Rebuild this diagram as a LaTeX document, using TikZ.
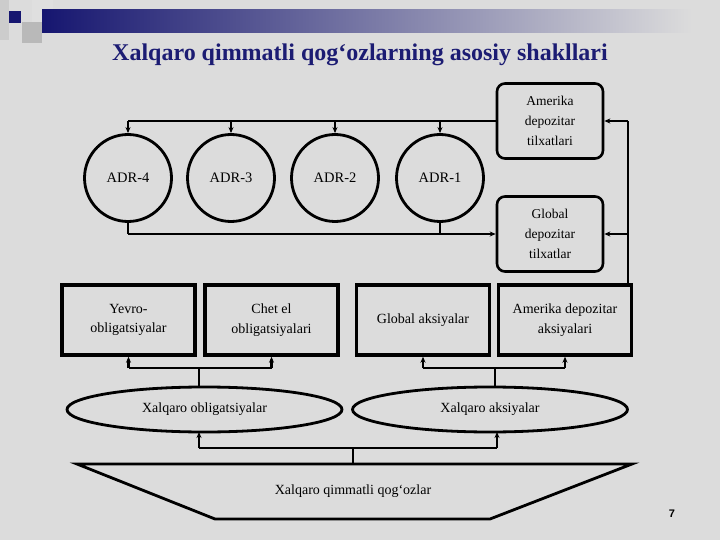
\documentclass[tikz,border=0pt]{standalone}
\usepackage{fontspec}
\setmainfont{Liberation Serif}
\newfontfamily\numfont{Liberation Sans}
\usetikzlibrary{shapes.geometric,arrows.meta,calc}
\definecolor{bgc}{RGB}{220,220,220}
\definecolor{navyc}{RGB}{22,22,112}
\definecolor{midc}{RGB}{120,120,165}
\definecolor{titlec}{RGB}{28,28,115}
\begin{document}
\begin{tikzpicture}[x=1pt,y=-1pt,
  adr/.style={circle,draw,line width=2.8pt,minimum size=87pt,inner sep=0pt,font=\fontsize{14.5}{17}\selectfont},
  rbox/.style={rounded corners=8pt,draw,line width=2.6pt,minimum width=106pt,minimum height=75pt,align=center,font=\fontsize{13.5}{20}\selectfont},
  sbox/.style={draw,line width=3.4pt,minimum width=133pt,minimum height=70pt,align=center,font=\fontsize{14}{19.5}\selectfont},
  ell/.style={ellipse,draw,line width=2.8pt,minimum width=275pt,minimum height=45pt,inner sep=0pt,font=\fontsize{14}{16}\selectfont},
  con/.style={line width=2.4pt},
  arr/.style={line width=2.4pt,-{Stealth[length=6pt,width=5pt]}}]
\useasboundingbox (0,0) rectangle (720,540);
\fill[bgc] (0,0) rectangle (720,540);
% header decoration
\fill[gray!40] (0,0) rectangle (9,40);
\fill[gray!25] (32,0) rectangle (53,22);
\fill[gray!55] (22,22) rectangle (42,43);
\fill[navyc] (9,11) rectangle (21,23);
\shade[left color=navyc, right color=bgc, middle color=midc] (42,10) rectangle (692,33);
% title
\node[font=\fontsize{24}{28}\selectfont\bfseries, text=titlec] (title) at (360,55) {Xalqaro qimmatli qog‘ozlarning asosiy shakllari};
% circles
\node[adr] (a4) at (128,178) {ADR-4};
\node[adr] (a3) at (231,178) {ADR-3};
\node[adr] (a2) at (335,178) {ADR-2};
\node[adr] (a1) at (440,178) {ADR-1};
% rounded boxes
\node[rbox] (amer) at (550,121) {Amerika\\depozitar\\tilxatlari};
\node[rbox] (glob) at (550,234) {Global\\depozitar\\tilxatlar};
% rectangles
\node[sbox] (yev) at (128.5,320) {Yevro-\\obligatsiyalar};
\node[sbox] (chet) at (271.5,320) {Chet el\\obligatsiyalari};
\node[sbox] (gaks) at (423,320) {Global aksiyalar};
\node[sbox] (adaks) at (565,320) {Amerika depozitar\\aksiyalari};
% ellipses
\node[ell] (eo) at (204.5,409.5) {Xalqaro obligatsiyalar};
\node[ell] (ea) at (490,409.5) {Xalqaro aksiyalar};
% trapezoid
\draw[line width=2.8pt,line join=miter] (77,464) -- (632,464) -- (490,519) -- (215,519) -- cycle;
\node[font=\fontsize{14}{16}\selectfont] (xq) at (353,491) {Xalqaro qimmatli qog‘ozlar};
\coordinate (tt) at (353,464);
% top distribution line
\draw[con] (amer.west) -- (a4.north |- amer.west);
\foreach \c in {a4,a3,a2,a1} \draw[arr] (\c.north |- amer.west) -- (\c.north);
% bottom collection line
\draw[con] (a4.south) -- (a4.south |- glob.west);
\draw[con] (a1.south) -- (a1.south |- glob.west);
\draw[arr] (a4.south |- glob.west) -- (glob.west);
% right feed line
\coordinate (rt) at (628,121);
\coordinate (rg) at (628,234);
\draw[con] (adaks.north -| rt) -- (rt);
\draw[arr] (rt) -- (amer.east);
\draw[arr] (rg) -- (glob.east);
% ellipse to boxes
\coordinate (jl) at (199,368);
\coordinate (jr) at (495,368);
\draw[con] (eo.north -| jl) -- (jl);
\draw[con] (ea.north -| jr) -- (jr);
\draw[con] (yev.south |- jl) -- (chet.south |- jl);
\draw[con] (gaks.south |- jr) -- (adaks.south |- jr);
\draw[arr] (yev.south |- jl) -- (yev.south);
\draw[arr] (chet.south |- jl) -- (chet.south);
\draw[arr] (gaks.south |- jr) -- (gaks.south);
\draw[arr] (adaks.south |- jr) -- (adaks.south);
% trapezoid to ellipses
\coordinate (jb) at (353,448);
\draw[con] (tt) -- (jb);
\draw[con] (199,448) -- (497,448);
\draw[arr] (199,448) -- (199,432);
\draw[arr] (497,448) -- (497,432);
% page number
\node[font=\numfont\bfseries\fontsize{11}{13}\selectfont] (pn) at (672,514) {7};
\end{tikzpicture}
\end{document}
